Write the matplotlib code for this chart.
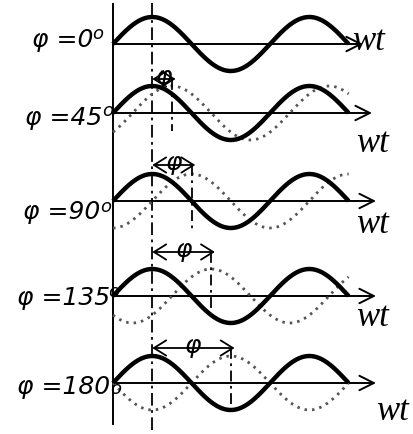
import numpy as np
import matplotlib
matplotlib.use('Agg')
import matplotlib.pyplot as plt
from matplotlib.patches import FancyArrowPatch

# phase shifts of the dotted wave, one row each
phases_deg = [0, 45, 90, 135, 180]
row_labels = ['φ =0', 'φ =45', 'φ =90', 'φ =135', 'φ =180']
deg_mark = 'o'
phi_text = 'φ'
axis_text = 'wt'

# layout in pixels of the 414x435 picture
base_py = [45, 114, 202, 297, 384]        # horizontal axis of each row
axis_end_px = [363, 372, 376, 376, 376]   # tip of axis arrow
phi_arrow_py = [None, 80, 166, 253, 349]  # height of the phi arrow
mark_low_py = [None, 132, 232, 310, 411]  # lower end of the right marker line
label_right_px = [93, 102, 100, 110, 110]
label_dy = [-5, 4, 10, 1, 3]
deg_pos = [(98, 34), (108, 111), (106, 207), (114, 292), (116, 389)]
wt_pos = [(369, 42), (373, 143), (373, 225), (373, 318), (393, 412)]

X0, PX_PER_RAD = 113, 25.0
Y0, PX_PER_AMP = 45, 27.0


def X(px):
    return (px - X0) / PX_PER_RAD


def Y(py):
    return -(py - Y0) / PX_PER_AMP


fig = plt.figure(figsize=(4.14, 4.35), dpi=100)
ax = fig.add_axes([0, 0, 1, 1])
ax.set_xlim(X(0), X(414))
ax.set_ylim(Y(435), Y(0))
ax.axis('off')

sans = dict(family='DejaVu Sans', style='oblique', color='black')
serif = dict(family='Liberation Serif', style='italic', color='black')

# vertical axis and the reference line at the first peak
ax.plot([0, 0], [Y(5), Y(425)], color='black', lw=1.4)
ax.plot([np.pi / 2, np.pi / 2], [Y(4), Y(435)], color='black', lw=1.3,
        dashes=(7, 2.5, 1.5, 2.5))

wt = np.linspace(0, 3 * np.pi, 400)
for i, deg in enumerate(phases_deg):
    y0 = Y(base_py[i])
    phi = np.deg2rad(deg)

    arr = FancyArrowPatch((0, y0), (X(axis_end_px[i]), y0),
                          arrowstyle='->,head_length=0.4,head_width=0.2',
                          mutation_scale=26, lw=1.4, color='black',
                          shrinkA=0, shrinkB=0)
    ax.add_patch(arr)

    if deg > 0:
        ax.plot(wt, y0 + np.sin(wt - phi), color='#555555', lw=2.0,
                dashes=(0.9, 1.8))
    ax.plot(wt, y0 + np.sin(wt), color='black', lw=3.2,
            solid_capstyle='butt')

    if deg > 0:
        ya = Y(phi_arrow_py[i])
        x_end = np.pi / 2 + phi
        da = FancyArrowPatch((np.pi / 2, ya), (x_end + 0.15, ya),
                             arrowstyle='<->,head_length=0.4,head_width=0.25',
                             mutation_scale=22, lw=1.3, color='black',
                             shrinkA=0, shrinkB=0)
        ax.add_patch(da)
        ax.plot([x_end, x_end], [ya, Y(mark_low_py[i])], color='black',
                lw=1.3, dashes=(6, 2.5, 1.5, 2.5))
        ax.text((np.pi / 2 + x_end + 0.15) / 2, ya + 0.12, phi_text,
                fontsize=18, ha='center', va='center', **sans)

    ax.text(X(label_right_px[i]), Y(base_py[i] + label_dy[i]), row_labels[i],
            fontsize=18, ha='right', va='center', **sans)
    ax.text(X(deg_pos[i][0]), Y(deg_pos[i][1]), deg_mark,
            fontsize=13, ha='center', va='center', **sans)
    ax.text(X(wt_pos[i][0]), Y(wt_pos[i][1]), axis_text,
            fontsize=25, ha='center', va='center', **serif)

fig.savefig('out.png', dpi=100)
